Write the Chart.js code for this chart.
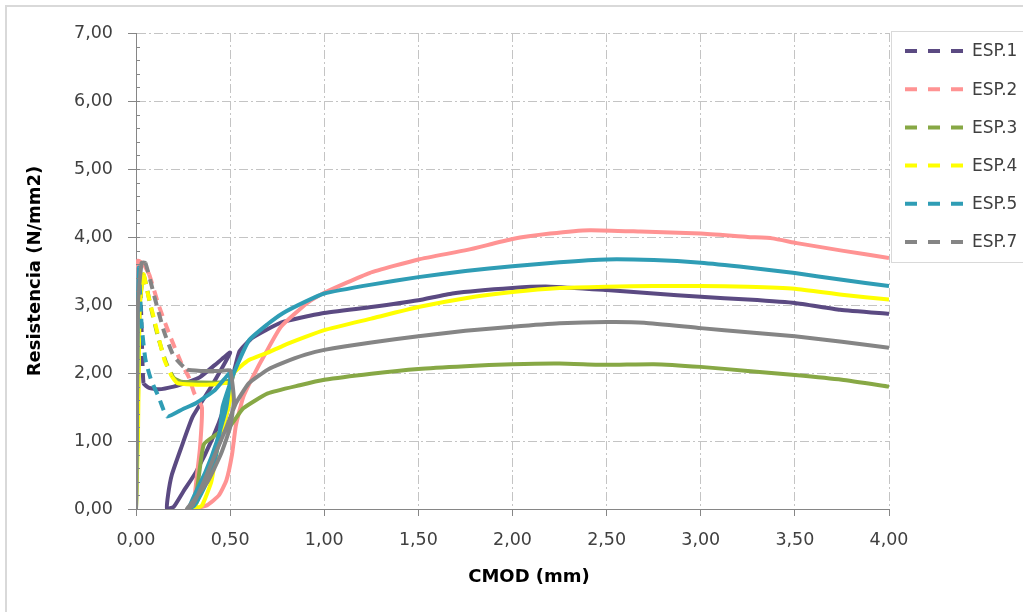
<!DOCTYPE html>
<html>
<head>
<meta charset="utf-8">
<script src="https://cdn.jsdelivr.net/npm/chart.js@4"></script>
<style>
  html, body { margin: 0; padding: 0; background: #fff; }
  #wrap { position: relative; width: 1023px; height: 612px; }
</style>
</head>
<body>
<div id="wrap"><canvas id="cmodChart" width="1023" height="612"></canvas></div>
<script>
// Curvas resistencia - CMOD
var seriesNames = ['ESP.1', 'ESP.2', 'ESP.3', 'ESP.4', 'ESP.5', 'ESP.7'];
var seriesColors = ['#5b4a82', '#ff9393', '#87a845', '#ffff00', '#2f9db5', '#858585'];

var esp1 = [[0,0],[0.003,2.0],[0.008,3.3],[0.02,3.5],[0.03,2.6],[0.04,1.85],[0.07,1.78],[0.12,1.76],[0.2,1.8],[0.28,1.87],[0.34,1.94],[0.42,2.12],[0.5,2.3],
  [0.4,1.8],[0.3,1.35],[0.24,0.9],[0.19,0.5],[0.17,0.2],[0.165,0],
  [0.2,0.03],[0.25,0.25],[0.32,0.55],[0.41,1.06],[0.47,1.5],[0.51,1.9],[0.55,2.32],[0.62,2.52],[0.77,2.74],[0.99,2.88],[1.25,2.97],[1.5,3.07],[1.68,3.17],[2.0,3.25],[2.2,3.27],[2.5,3.22],[2.75,3.17],[3.0,3.12],[3.25,3.08],[3.5,3.03],[3.74,2.93],[4.0,2.87]];

var esp2 = [[0,0],[0.003,2.0],[0.005,3.2],[0.01,3.65],[0.04,3.6],[0.07,3.45],[0.12,3.0],[0.18,2.55],[0.24,2.15],[0.28,1.94],[0.31,1.7],[0.35,1.5],
  [0.34,0.9],[0.32,0.4],[0.31,0],
  [0.38,0.06],[0.44,0.2],[0.48,0.42],[0.51,0.8],[0.53,1.22],[0.57,1.65],[0.62,1.94],[0.69,2.3],[0.77,2.68],[0.91,3.03],[1.0,3.18],[1.24,3.47],[1.5,3.67],[1.76,3.81],[2.0,3.97],[2.2,4.05],[2.41,4.1],[2.68,4.08],[3.0,4.05],[3.25,4.0],[3.38,3.98],[3.51,3.91],[3.75,3.8],[4.0,3.69]];

var esp3 = [[0,0],[0.01,1.5],[0.02,3.0],[0.04,3.45],[0.08,2.95],[0.12,2.5],[0.16,2.15],[0.2,1.93],[0.24,1.87],[0.35,1.86],[0.45,1.86],[0.5,1.88],
  [0.49,1.5],[0.45,1.1],[0.4,0.7],[0.35,0.3],[0.31,0],
  [0.33,0.4],[0.36,0.95],[0.43,1.1],[0.5,1.22],[0.57,1.48],[0.7,1.7],[0.87,1.82],[1.0,1.9],[1.25,1.99],[1.5,2.06],[1.75,2.1],[2.0,2.13],[2.25,2.14],[2.5,2.12],[2.75,2.13],[3.0,2.09],[3.25,2.03],[3.5,1.97],[3.75,1.9],[4.0,1.8]];

var esp4 = [[0,0],[0.01,1.0],[0.015,2.2],[0.02,3.0],[0.04,3.45],[0.06,3.2],[0.1,2.75],[0.15,2.2],[0.19,1.95],[0.22,1.85],[0.3,1.83],[0.4,1.83],[0.5,1.85],
  [0.5,1.6],[0.45,1.1],[0.4,0.65],[0.35,0.3],[0.31,0],
  [0.35,0.05],[0.4,0.4],[0.43,0.87],[0.48,1.56],[0.52,2.0],[0.6,2.19],[0.7,2.3],[0.78,2.4],[0.9,2.53],[1.0,2.63],[1.25,2.8],[1.5,2.97],[1.75,3.1],[2.0,3.19],[2.25,3.25],[2.5,3.27],[2.75,3.28],[3.0,3.28],[3.25,3.27],[3.5,3.24],[3.75,3.15],[4.0,3.08]];

var esp5 = [[0,0],[0.005,1.5],[0.01,3.0],[0.015,3.55],[0.03,2.7],[0.05,2.2],[0.08,1.9],[0.12,1.65],[0.165,1.36],[0.25,1.47],[0.32,1.56],[0.42,1.75],[0.5,2.0],
  [0.48,1.5],[0.43,1.0],[0.37,0.55],[0.31,0.2],[0.28,0],
  [0.31,0.05],[0.36,0.3],[0.41,0.62],[0.44,1.0],[0.46,1.5],[0.52,2.0],[0.6,2.48],[0.7,2.72],[0.78,2.88],[0.9,3.05],[1.0,3.17],[1.25,3.3],[1.5,3.41],[1.75,3.5],[2.0,3.57],[2.25,3.63],[2.5,3.67],[2.75,3.66],[3.0,3.62],[3.25,3.55],[3.5,3.47],[3.75,3.37],[4.0,3.28]];

var esp7 = [[0,0],[0.005,1.5],[0.01,3.0],[0.03,3.62],[0.05,3.62],[0.1,3.1],[0.15,2.6],[0.2,2.25],[0.27,2.05],[0.35,2.03],[0.45,2.03],[0.5,2.04],
  [0.52,1.6],[0.5,1.2],[0.45,0.8],[0.38,0.4],[0.3,0.1],[0.27,0],
  [0.3,0.05],[0.36,0.4],[0.42,0.8],[0.48,1.2],[0.53,1.55],[0.6,1.85],[0.7,2.05],[0.78,2.15],[0.9,2.27],[1.0,2.34],[1.25,2.45],[1.5,2.54],[1.75,2.62],[2.0,2.68],[2.25,2.73],[2.5,2.75],[2.7,2.74],[3.0,2.66],[3.25,2.6],[3.5,2.54],[3.75,2.46],[4.0,2.37]];

var seriesData = [esp1, esp2, esp3, esp4, esp5, esp7];

var xTicks = [0, 0.5, 1, 1.5, 2, 2.5, 3, 3.5, 4];
var yTicks = [0, 1, 2, 3, 4, 5, 6, 7];

var FONT = '"DejaVu Sans", sans-serif';
var TXT = '#404040';

function fmt(v) {
  return Number(v).toFixed(2).replace('.', ',');
}

// tramo de caida tras el pico: discontinuo
function dropDash(ctx) {
  var a = ctx.p0.parsed, b = ctx.p1.parsed;
  if (a.x < 0.32 && b.x > a.x && b.y < a.y - 0.15) return [10, 7];
  return undefined;
}

var datasets = seriesData.map(function (pts, i) {
  return {
    label: seriesNames[i],
    data: pts.map(function (p) { return { x: p[0], y: p[1] }; }),
    borderColor: seriesColors[i],
    backgroundColor: seriesColors[i],
    borderWidth: 4,
    pointRadius: 0,
    tension: 0.15,
    fill: false,
    order: seriesData.length - i,
    segment: { borderDash: dropDash }
  };
});

var extras = {
  id: 'extras',
  beforeDraw: function (chart) {
    var c = chart.ctx;
    c.save();
    c.fillStyle = '#fff';
    c.fillRect(0, 0, chart.width, chart.height);
    c.strokeStyle = '#d9d9d9';
    c.lineWidth = 2;
    c.beginPath();
    c.moveTo(6, chart.height);
    c.lineTo(6, 6);
    c.lineTo(chart.width, 6);
    c.stroke();
    c.restore();
  },
  afterDraw: function (chart) {
    var c = chart.ctx;
    var ys = chart.scales.y, xs = chart.scales.x;
    c.save();
    // marcas menores del eje Y
    c.strokeStyle = '#868686';
    c.lineWidth = 1;
    c.beginPath();
    for (var v = 0.2; v < 7; v += 0.2) {
      var py = Math.round(ys.getPixelForValue(v)) + 0.5;
      c.moveTo(xs.left, py);
      c.lineTo(xs.left + 4, py);
    }
    c.stroke();

    // titulos de ejes
    c.fillStyle = '#000';
    c.font = 'bold 18px ' + FONT;
    c.textAlign = 'center';
    c.textBaseline = 'middle';
    c.fillText('CMOD (mm)', 529, 577);
    c.translate(35, 271);
    c.rotate(-Math.PI / 2);
    c.fillText('Resistencia (N/mm2)', 0, 0);
    c.restore();

    // leyenda
    c.save();
    c.strokeStyle = '#d9d9d9';
    c.lineWidth = 1;
    c.strokeRect(891.5, 31.5, 140, 231);
    c.font = '17px ' + FONT;
    c.textAlign = 'left';
    c.textBaseline = 'middle';
    for (var i = 0; i < seriesNames.length; i++) {
      var y = 51 + i * 38.2;
      c.strokeStyle = seriesColors[i];
      c.lineWidth = 4;
      c.setLineDash([12, 11]);
      c.beginPath();
      c.moveTo(905, y);
      c.lineTo(968, y);
      c.stroke();
      c.setLineDash([]);
      c.fillStyle = TXT;
      c.fillText(seriesNames[i], 972, y + 1);
    }
    c.restore();
  }
};

var ctx = document.getElementById('cmodChart').getContext('2d');
var chart = new Chart(ctx, {
  type: 'line',
  data: { datasets: datasets },
  plugins: [extras],
  options: {
    responsive: false,
    animation: false,
    layout: { padding: { top: 33, right: 134, left: 0, bottom: 0 } },
    plugins: {
      legend: { display: false },
      tooltip: { enabled: false }
    },
    scales: {
      x: {
        type: 'linear',
        min: 0,
        max: 4,
        afterBuildTicks: function (s) { s.ticks = xTicks.map(function (v) { return { value: v }; }); },
        afterFit: function (s) { s.height = 103; },
        ticks: {
          callback: fmt,
          color: TXT,
          font: { family: FONT, size: 17.5 },
          padding: 14,
          maxRotation: 0
        },
        grid: {
          color: function (c) { return c.tick && c.tick.value === 0 ? 'rgba(0,0,0,0)' : '#c4c4c4'; },
          lineWidth: 1,
          tickLength: 7,
          tickColor: '#868686'
        },
        border: { display: true, color: '#868686', width: 1, dash: [9, 3, 2, 3] }
      },
      y: {
        type: 'linear',
        min: 0,
        max: 7,
        afterBuildTicks: function (s) { s.ticks = yTicks.map(function (v) { return { value: v }; }); },
        afterFit: function (s) { s.width = 136; },
        ticks: {
          callback: fmt,
          color: TXT,
          font: { family: FONT, size: 17.5 },
          padding: 15
        },
        grid: {
          color: function (c) { return c.tick && c.tick.value === 0 ? 'rgba(0,0,0,0)' : '#c4c4c4'; },
          lineWidth: 1,
          tickLength: 8,
          tickColor: '#868686'
        },
        border: { display: true, color: '#868686', width: 1, dash: [9, 3, 2, 3] }
      }
    }
  }
});
</script>
</body>
</html>
